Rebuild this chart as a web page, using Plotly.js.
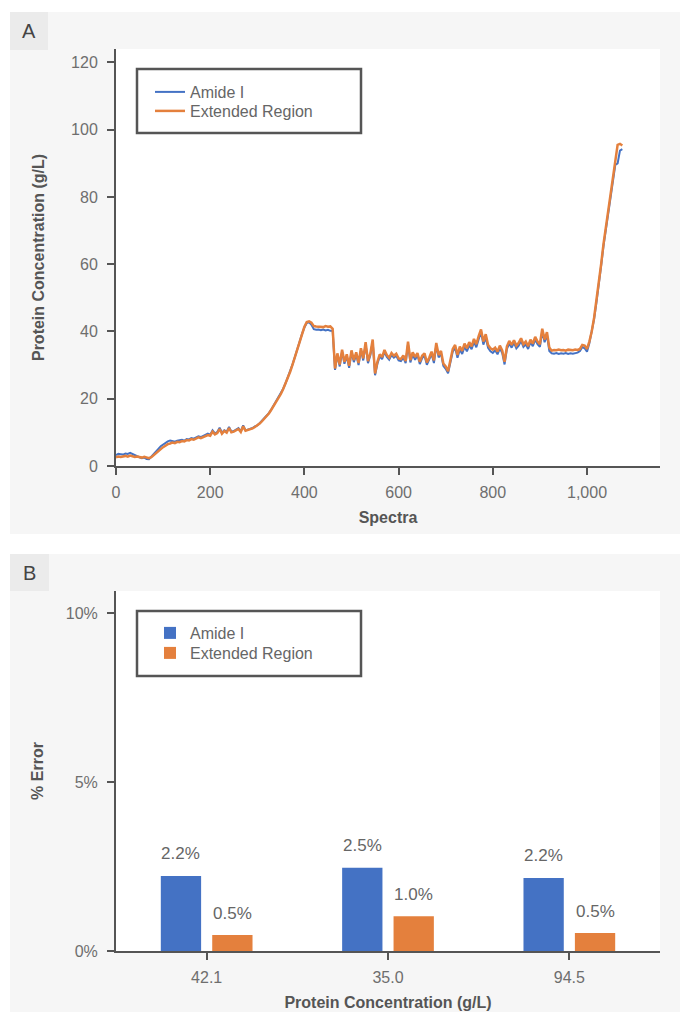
<!DOCTYPE html>
<html><head><meta charset="utf-8">
<script src="https://cdn.plot.ly/plotly-3.0.1.min.js"></script>
<style>html,body{margin:0;padding:0;background:#fff}#chart{width:680px;height:1012px}</style>
</head><body><div id="chart"></div>
<script>
// ---------- DATA ----------
const seriesNames = ['Amide I', 'Extended Region'];
// spectra index of first point and spacing between points (Plotly x0 / dx)
const spectraStart = 0;
const spectraStep = 5;
// Panel A: predicted protein concentration (g/L) per spectrum (every 5th spectrum)
const amideI = [
  3.2, 3.6, 3.5, 3.4, 3.7, 3.6, 3.9, 3.5, 3.1, 2.9, 2.6, 2.3, 2.5, 2.1, 2.0,
  2.7, 3.5, 4.4, 5.1, 5.9, 6.4, 6.9, 7.3, 7.6, 7.4, 7.2, 7.5,
  7.6, 7.8, 7.5, 8.0, 7.9, 8.3, 8.1, 8.4, 8.8, 8.6, 8.9, 9.2, 9.6, 9.3,
  10.6, 9.7, 10.1, 11.4, 9.9, 10.6, 10.2, 11.6, 10.2, 10.4, 10.8, 11.3, 10.3, 12.1, 10.6, 10.8, 11.0, 11.3,
  11.8, 12.1, 12.7, 13.5, 14.1, 15.0, 15.8, 16.9, 18.1, 19.1, 20.3, 21.6, 23.0, 24.6, 26.4, 28.3, 30.3, 32.5, 34.9, 37.1, 39.3, 41.2,
  42.5, 42.7, 42.0, 40.7, 40.5, 40.6, 40.4, 40.6, 40.3, 40.5, 40.2,
  40.2, 28.6, 33.0, 29.6, 34.0, 30.4, 32.6, 29.2, 33.8, 30.9, 33.2, 30.0, 34.4, 31.4, 36.2, 30.6, 32.9, 37.0, 27.0, 30.4, 32.6, 31.8, 33.9, 32.4, 31.6, 33.0, 32.2, 32.8, 31.4,
  31.2, 32.2, 30.6, 36.2, 30.8, 33.1, 31.6, 33.0, 30.3, 32.1, 32.8, 30.1, 31.6, 33.3, 30.6, 35.9, 32.3, 33.5, 29.8, 28.9,
  27.6, 30.8, 34.0, 35.2, 32.2, 34.6, 33.3, 35.5, 34.1, 35.9, 34.7, 36.9, 35.3, 37.7, 39.8, 36.1, 38.2, 35.1, 34.1, 33.6,
  34.4, 33.2, 35.0, 33.6, 30.2, 34.8, 36.4, 35.2, 36.6, 35.0, 35.8, 37.2, 35.4, 36.2, 34.8, 36.8, 35.6, 37.6, 36.2, 35.4,
  40.0, 36.8, 39.0, 34.2, 33.5, 33.4, 33.6, 33.3, 33.5, 33.4, 33.6, 33.3, 33.5, 33.4, 33.6, 33.7, 34.2, 35.4,
  35.0, 34.0, 36.5, 39.6, 43.6, 48.6, 53.6, 59.5, 65.4, 70.5, 75.5, 80.4, 85.2, 89.5, 90.0, 93.8, 94.2
];
const extendedRegion = [
  2.6, 2.8, 2.7, 2.9, 3.0, 2.8, 3.1, 2.9, 2.7, 2.8, 2.6, 2.5, 2.7, 2.4, 2.3,
  2.6, 3.2, 3.9, 4.5, 5.2, 5.6, 6.0, 6.5, 6.7, 7.0, 6.8, 7.2,
  7.1, 7.4, 7.3, 7.7, 7.6, 8.0, 7.8, 8.1, 8.5, 8.3, 8.6, 8.9, 9.2, 9.0,
  10.2, 9.4, 9.8, 11.0, 9.6, 10.4, 9.9, 11.3, 10.0, 10.2, 10.6, 11.0, 10.1, 11.8, 10.5, 10.7, 10.9, 11.2,
  11.6, 12.0, 12.6, 13.3, 14.0, 14.8, 15.7, 16.8, 17.9, 19.0, 20.2, 21.4, 22.9, 24.5, 26.3, 28.1, 30.2, 32.4, 34.8, 37.0, 39.4, 41.4,
  42.8, 43.0, 42.6, 41.6, 41.5, 41.4, 41.5, 41.3, 41.6, 41.4, 41.5,
  40.8, 29.0, 33.5, 30.2, 34.6, 31.0, 33.2, 29.8, 34.4, 31.5, 33.8, 30.6, 35.0, 32.0, 36.8, 31.2, 33.5, 37.6, 27.5, 31.0, 33.2, 32.4, 34.5, 33.0, 32.2, 33.6, 32.8, 33.4, 32.0,
  31.8, 32.9, 31.2, 37.0, 31.5, 33.8, 32.4, 33.6, 31.0, 32.8, 33.5, 30.8, 32.2, 34.0, 31.4, 36.6, 33.0, 34.2, 30.5, 29.6,
  28.2, 31.5, 34.8, 36.0, 33.0, 35.5, 34.2, 36.4, 35.0, 36.8, 35.6, 37.8, 36.2, 38.6, 40.6, 37.0, 39.2, 36.0, 35.0, 34.6,
  35.2, 34.0, 35.8, 34.4, 31.0, 35.6, 37.2, 36.0, 37.4, 35.8, 36.6, 38.0, 36.2, 37.0, 35.6, 37.6, 36.4, 38.4, 37.0, 36.2,
  40.8, 37.6, 39.8, 35.2, 34.3, 34.5, 34.4, 34.6, 34.4, 34.5, 34.3, 34.6, 34.5, 34.4, 34.6, 34.5, 34.8, 36.0,
  35.8, 34.8, 37.0, 40.0, 44.0, 49.0, 54.0, 60.0, 66.0, 71.0, 76.0, 81.0, 86.0, 91.0, 95.5, 95.8, 95.3
];
const xTicksA = [0, 200, 400, 600, 800, 1000];
const yTicksA = [0, 20, 40, 60, 80, 100, 120];

// Panel B: % error at three protein concentrations
const concLabels = ['42.1', '35.0', '94.5'];
const errAmideI = [2.22, 2.46, 2.16];
const errExtended = [0.47, 1.03, 0.53];
const yTicksB = [0, 5, 10];
const yTickTextB = ['0%', '5%', '10%'];

// ---------- STYLE / LAYOUT ----------
const W = 680, H = 1012;
const M = {l: 116, r: 20, t: 49, b: 61};
const fx = px => (px - M.l) / (W - M.l - M.r);
const fy = py => (H - M.b - py) / (H - M.t - M.b);

const BLUE = '#4472C4', ORANGE = '#E4803D';
const FONT = 'Liberation Sans, Arial, sans-serif';
const tickFont = {family: FONT, size: 16, color: '#6e6e6e'};
const titleFont = {family: FONT, size: 16, color: '#555555', weight: 700};
const axisLine = {showline: true, linecolor: '#555555', linewidth: 2, ticks: 'outside',
  ticklen: 7, tickwidth: 2, tickcolor: '#555555', showgrid: false, zeroline: false,
  tickfont: tickFont, automargin: false};

const traces = [
  {type: 'scatter', mode: 'lines', name: seriesNames[0], x0: spectraStart, dx: spectraStep, y: amideI,
   line: {color: BLUE, width: 2}, xaxis: 'x', yaxis: 'y', legend: 'legend'},
  {type: 'scatter', mode: 'lines', name: seriesNames[1], x0: spectraStart, dx: spectraStep, y: extendedRegion,
   line: {color: ORANGE, width: 2.5}, xaxis: 'x', yaxis: 'y', legend: 'legend2'},
  {type: 'bar', name: seriesNames[0], x: concLabels, y: errAmideI, marker: {color: BLUE},
   xaxis: 'x2', yaxis: 'y2', legend: 'legend3'},
  {type: 'bar', name: seriesNames[1], x: concLabels, y: errExtended, marker: {color: ORANGE},
   xaxis: 'x2', yaxis: 'y2', legend: 'legend4'}
];

function legendAt(px, py) {
  return {x: fx(px), y: fy(py), xanchor: 'left', yanchor: 'top', bgcolor: 'rgba(0,0,0,0)',
    borderwidth: 0, font: {family: FONT, size: 16, color: '#666666'}};
}

const shapes = [
  // panel backgrounds
  {type: 'rect', xref: 'paper', yref: 'paper', x0: fx(10), x1: fx(680), y0: fy(534), y1: fy(12),
   fillcolor: '#f6f6f6', line: {width: 0}, layer: 'below'},
  {type: 'rect', xref: 'paper', yref: 'paper', x0: fx(10), x1: fx(680), y0: fy(1012), y1: fy(554),
   fillcolor: '#f6f6f6', line: {width: 0}, layer: 'below'},
  {type: 'rect', xref: 'paper', yref: 'paper', x0: fx(10), x1: fx(48), y0: fy(50), y1: fy(12),
   fillcolor: '#ebebeb', line: {width: 0}, layer: 'below'},
  {type: 'rect', xref: 'paper', yref: 'paper', x0: fx(10), x1: fx(49), y0: fy(591), y1: fy(554),
   fillcolor: '#ebebeb', line: {width: 0}, layer: 'below'},
  // white plot areas
  {type: 'rect', xref: 'x domain', yref: 'y domain', x0: 0, x1: 1, y0: 0, y1: 1,
   fillcolor: '#ffffff', line: {width: 0}, layer: 'below'},
  {type: 'rect', xref: 'x2 domain', yref: 'y2 domain', x0: 0, x1: 1, y0: 0, y1: 1,
   fillcolor: '#ffffff', line: {width: 0}, layer: 'below'},
  // legend frames
  {type: 'rect', xref: 'paper', yref: 'paper', x0: fx(137), x1: fx(361), y0: fy(133), y1: fy(69),
   fillcolor: '#ffffff', line: {width: 2.5, color: '#555555'}, layer: 'above'},
  {type: 'rect', xref: 'paper', yref: 'paper', x0: fx(137), x1: fx(361), y0: fy(676), y1: fy(611),
   fillcolor: '#ffffff', line: {width: 2.5, color: '#555555'}, layer: 'above'}
];

const annotations = [
  {xref: 'paper', yref: 'paper', x: fx(29), y: fy(31), text: 'A', showarrow: false,
   xanchor: 'center', yanchor: 'middle', font: {family: FONT, size: 20, color: '#444444'}},
  {xref: 'paper', yref: 'paper', x: fx(29.5), y: fy(573), text: 'B', showarrow: false,
   xanchor: 'center', yanchor: 'middle', font: {family: FONT, size: 20, color: '#444444'}}
];
const labelFont = {family: FONT, size: 17, color: '#666666'};
concLabels.forEach((c, i) => {
  annotations.push({xref: 'x2', yref: 'y2', x: i, y: errAmideI[i], text: errAmideI[i].toFixed(1) + '%',
    showarrow: false, xshift: -25.7, yshift: 22, xanchor: 'center', yanchor: 'middle', font: labelFont});
  annotations.push({xref: 'x2', yref: 'y2', x: i, y: errExtended[i], text: errExtended[i].toFixed(1) + '%',
    showarrow: false, xshift: 25.7, yshift: 22, xanchor: 'center', yanchor: 'middle', font: labelFont});
});

const layout = {
  width: W, height: H, margin: M,
  paper_bgcolor: '#ffffff', plot_bgcolor: '#ffffff',
  showlegend: true, hovermode: false,
  barmode: 'group', bargap: 0.433, bargroupgap: 0.216,
  xaxis: Object.assign({}, axisLine, {domain: [0, 1], range: [0, 1155], tickvals: xTicksA,
    tickformat: ',d', anchor: 'y', ticklabelstandoff: 4,
    title: {text: 'Spectra', font: titleFont, standoff: 12}}),
  yaxis: Object.assign({}, axisLine, {domain: [fy(466), 1], range: [0, 124], tickvals: yTicksA,
    anchor: 'x', ticklabelstandoff: 6,
    title: {text: 'Protein Concentration (g/L)', font: titleFont, standoff: 22}}),
  xaxis2: Object.assign({}, axisLine, {domain: [0, 1], type: 'category', range: [-0.5, 2.5],
    categoryorder: 'array', categoryarray: concLabels, anchor: 'y2', ticklabelstandoff: 4,
    title: {text: 'Protein Concentration (g/L)', font: titleFont, standoff: 12}}),
  yaxis2: Object.assign({}, axisLine, {domain: [0, fy(591)], range: [0, 10.65], tickvals: yTicksB,
    ticktext: yTickTextB, anchor: 'x2', ticklabelstandoff: 6,
    title: {text: '% Error', font: titleFont, standoff: 18}}),
  legend: legendAt(150, 75),
  legend2: legendAt(150, 94),
  legend3: legendAt(150, 616),
  legend4: legendAt(150, 636),
  shapes: shapes,
  annotations: annotations
};

Plotly.newPlot('chart', traces, layout, {staticPlot: true, displayModeBar: false});
</script>
</body></html>
